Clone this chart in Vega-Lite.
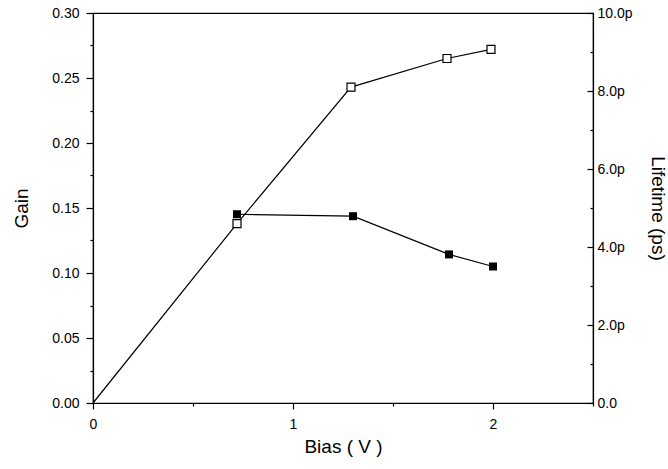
{
  "$schema": "https://vega.github.io/schema/vega-lite/v6.json",
  "width": 500,
  "height": 390,
  "autosize": {"type": "none"},
  "padding": {"left": 93, "top": 13, "right": 75, "bottom": 66},
  "background": "white",
  "config": {
    "view": {"stroke": "black", "strokeWidth": 1.2},
    "font": "Liberation Sans",
    "axis": {
      "grid": false,
      "domainColor": "black",
      "domainWidth": 1.2,
      "tickColor": "black",
      "tickWidth": 1.2,
      "labelColor": "black",
      "titleColor": "black",
      "labelFont": "Liberation Sans",
      "titleFont": "Liberation Sans",
      "titleFontWeight": "normal",
      "labelFontSize": 14,
      "titleFontSize": 19
    }
  },
  "datasets": {
    "gain": [
      {"bias": 0, "gain": 0},
      {"bias": 0.72, "gain": 0.138},
      {"bias": 1.29, "gain": 0.243},
      {"bias": 1.77, "gain": 0.265},
      {"bias": 1.99, "gain": 0.272}
    ],
    "life": [
      {"bias": 0.72, "lifetime": 4.84},
      {"bias": 1.3, "lifetime": 4.79},
      {"bias": 1.78, "lifetime": 3.81},
      {"bias": 2.0, "lifetime": 3.5}
    ]
  },
  "layer": [
    {
      "data": {"name": "gain"},
      "encoding": {
        "x": {
          "field": "bias", "type": "quantitative",
          "scale": {"domain": [0, 2.5], "nice": false, "zero": false},
          "axis": {
            "title": "Bias ( V )",
            "values": [0, 0.5, 1, 1.5, 2, 2.5],
            "labelExpr": "datum.value % 1 == 0 ? format(datum.value, 'd') : ''",
            "tickSize": {"condition": {"test": "datum.value % 1 == 0", "value": 6}, "value": 3},
            "labelPadding": 8,
            "titlePadding": 6,
            "labelFlush": false
          }
        },
        "y": {
          "field": "gain", "type": "quantitative",
          "scale": {"domain": [0, 0.3], "nice": false, "zero": false},
          "axis": {
            "title": "Gain",
            "orient": "left",
            "values": [0, 0.025, 0.05, 0.075, 0.1, 0.125, 0.15, 0.175, 0.2, 0.225, 0.25, 0.275, 0.3],
            "labelExpr": "abs(datum.value * 20 - round(datum.value * 20)) < 0.001 ? format(datum.value, '.2f') : ''",
            "tickSize": {"condition": {"test": "abs(datum.value * 20 - round(datum.value * 20)) < 0.001", "value": 7}, "value": 3},
            "labelPadding": 7,
            "titlePadding": 20,
            "labelFlush": false
          }
        }
      },
      "layer": [
        {"mark": {"type": "line", "color": "black", "strokeWidth": 1.2}},
        {
          "transform": [{"filter": "datum.bias > 0"}],
          "mark": {"type": "square", "size": 64, "filled": true, "fill": "white", "stroke": "black", "strokeWidth": 1.2, "opacity": 1}
        }
      ]
    },
    {
      "data": {"name": "life"},
      "encoding": {
        "x": {
          "field": "bias", "type": "quantitative",
          "scale": {"domain": [0, 2.5], "nice": false, "zero": false},
          "axis": {
            "title": "Bias ( V )",
            "values": [0, 0.5, 1, 1.5, 2, 2.5],
            "labelExpr": "datum.value % 1 == 0 ? format(datum.value, 'd') : ''",
            "tickSize": {"condition": {"test": "datum.value % 1 == 0", "value": 6}, "value": 3},
            "labelPadding": 8,
            "titlePadding": 6,
            "labelFlush": false
          }
        },
        "y": {
          "field": "lifetime", "type": "quantitative",
          "scale": {"domain": [0, 10], "nice": false, "zero": false},
          "axis": {
            "title": "Lifetime (ps)",
            "orient": "right",
            "values": [0, 1, 2, 3, 4, 5, 6, 7, 8, 9, 10],
            "labelExpr": "datum.value == 0 ? '0.0' : (datum.value % 2 == 0 ? format(datum.value, '.1f') + 'p' : '')",
            "tickSize": {"condition": {"test": "datum.value % 2 == 0", "value": -6}, "value": -3},
            "labelPadding": 10,
            "titlePadding": 15,
            "labelFlush": false
          }
        }
      },
      "layer": [
        {"mark": {"type": "line", "color": "black", "strokeWidth": 1.2}},
        {"mark": {"type": "square", "size": 64, "filled": true, "color": "black", "opacity": 1}}
      ]
    }
  ],
  "resolve": {"scale": {"y": "independent"}}
}
